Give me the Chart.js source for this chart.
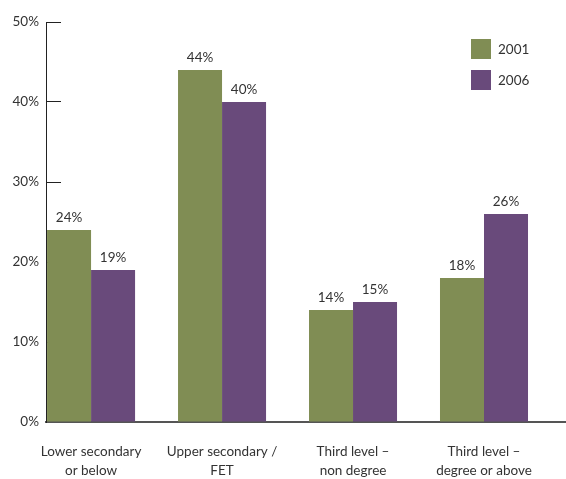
<!DOCTYPE html>
<html><head><meta charset="utf-8">
<script src="https://cdn.jsdelivr.net/npm/chart.js@4/dist/chart.umd.min.js"></script>
<style>
html,body{margin:0;padding:0;background:#fff;}
#wrap{position:relative;width:566px;height:479px;}
#legend{position:absolute;left:471px;top:39px;font:13.5px Lato, sans-serif;color:#333;}
.item{display:flex;align-items:center;height:20px;margin-bottom:11px;}
.sw{width:20px;height:20px;margin-right:7px;}
</style></head><body>
<div id="wrap"><canvas id="c" style="width:566px;height:479px"></canvas><div id="legend"></div></div>
<script>
const categories = [["Lower secondary","or below"],["Upper secondary /","FET"],["Third level –","non degree"],["Third level –","degree or above"]];
const seriesLabels = ["2001","2006"];
const values2001 = [24, 44, 14, 18];
const values2006 = [19, 40, 15, 26];
const yTicks = [0, 10, 20, 30, 40, 50];
const colors = ["#808d54", "#694a7b"];

const FONT = 'Lato, sans-serif';
const toPoints = arr => arr.map((v, i) => ({x: i, y: v}));

const valueLabels = {
  id: 'valueLabels',
  afterDatasetsDraw(chart) {
    const ctx = chart.ctx;
    ctx.save();
    ctx.font = '13.5px ' + FONT;
    ctx.fillStyle = '#333';
    ctx.textAlign = 'center';
    ctx.textBaseline = 'middle';
    chart.data.datasets.forEach((ds, di) => {
      chart.getDatasetMeta(di).data.forEach((bar, i) => {
        ctx.fillText(ds.data[i].y + '%', bar.x, bar.y - 12);
      });
    });
    ctx.restore();
  }
};

const chart = new Chart(document.getElementById('c'), {
  type: 'bar',
  data: {
    datasets: [
      {label: seriesLabels[0], data: toPoints(values2001), backgroundColor: colors[0], borderWidth: 0},
      {label: seriesLabels[1], data: toPoints(values2006), backgroundColor: colors[1], borderWidth: 0}
    ]
  },
  options: {
    responsive: false,
    animation: false,
    devicePixelRatio: 1,
    categoryPercentage: 0.672,
    barPercentage: 1,
    layout: {padding: {top: 22, right: 0, left: 0, bottom: 0}},
    plugins: {legend: {display: false}, tooltip: {enabled: false}},
    scales: {
      x: {
        type: 'linear',
        offset: false,
        min: -0.344,
        max: 3.626,
        afterBuildTicks: s => { s.ticks = categories.map((c, i) => ({value: i})); },
        afterFit: s => { s.height = 57; },
        grid: {display: false, drawTicks: false, offset: false},
        border: {display: true, color: '#555', width: 2},
        ticks: {
          autoSkip: false, maxRotation: 0, padding: 20,
          color: '#333',
          font: {family: FONT, size: 13.5, lineHeight: 1.4},
          callback: v => categories[v]
        }
      },
      y: {
        min: 0, max: 50,
        afterBuildTicks: s => { s.ticks = yTicks.map(v => ({value: v})); },
        afterFit: s => { s.width = 46; },
        grid: {display: true, drawTicks: false, color: '#222', lineWidth: 1},
        border: {display: true, color: '#222', width: 1, dash: [14, 3000]},
        ticks: {
          padding: 7, color: '#333',
          font: {family: FONT, size: 13.5},
          callback: v => v + '%'
        }
      }
    }
  },
  plugins: [valueLabels]
});

const legend = document.getElementById('legend');
chart.data.datasets.forEach(ds => {
  const item = document.createElement('div');
  item.className = 'item';
  const sw = document.createElement('span');
  sw.className = 'sw';
  sw.style.background = ds.backgroundColor;
  const t = document.createElement('span');
  t.textContent = ds.label;
  item.appendChild(sw); item.appendChild(t);
  legend.appendChild(item);
});
</script>
</body></html>
